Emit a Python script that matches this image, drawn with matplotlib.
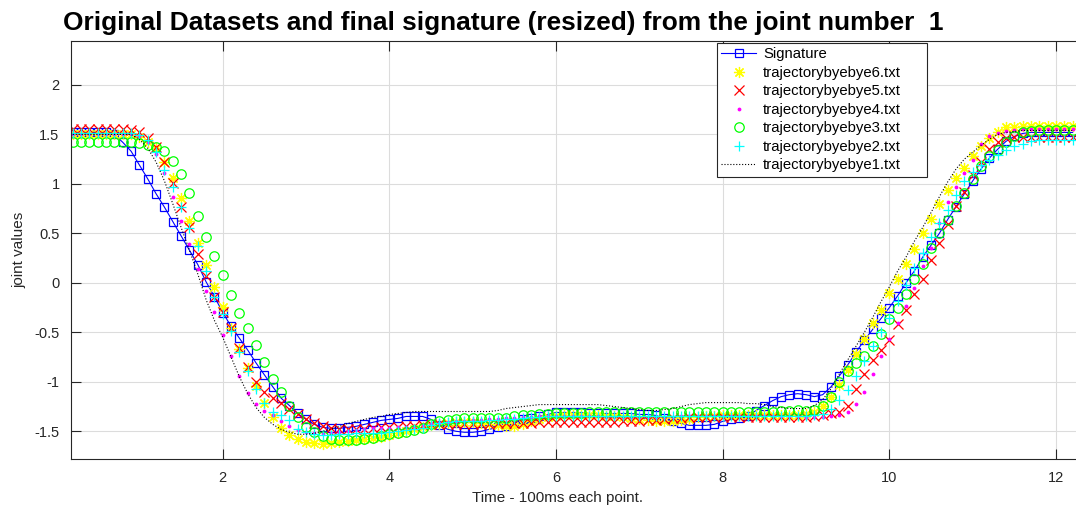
import numpy as np
import matplotlib
matplotlib.use("Agg")
import matplotlib.pyplot as plt
from matplotlib.ticker import FuncFormatter

plt.rcParams['font.family'] = ['Liberation Sans', 'DejaVu Sans']
plt.rcParams['axes.unicode_minus'] = False

# time axis: one sample every 100 ms
time = np.arange(121) / 10 + 0.2

signature = [
    1.52, 1.52, 1.52, 1.52, 1.52, 1.50, 1.42, 1.33, 1.19, 1.05,
    0.90, 0.765, 0.62, 0.475, 0.33, 0.185, 0.01, -0.14, -0.30, -0.44,
    -0.56, -0.68, -0.81, -0.93, -1.05, -1.165, -1.24, -1.32, -1.38, -1.43,
    -1.46, -1.47, -1.47, -1.46, -1.45, -1.43, -1.41, -1.39, -1.38, -1.37,
    -1.35, -1.35, -1.35, -1.38, -1.44, -1.48, -1.50, -1.51, -1.51, -1.50,
    -1.48, -1.46, -1.45, -1.42, -1.38, -1.37, -1.35, -1.33, -1.31, -1.31,
    -1.31, -1.31, -1.32, -1.32, -1.32, -1.32, -1.32, -1.32, -1.33, -1.33,
    -1.34, -1.37, -1.40, -1.42, -1.44, -1.44, -1.44, -1.43, -1.40, -1.38,
    -1.37, -1.35, -1.29, -1.24, -1.19, -1.15, -1.13, -1.12, -1.13, -1.15,
    -1.13, -1.05, -0.94, -0.83, -0.70, -0.58, -0.47, -0.36, -0.25, -0.13,
    0.00, 0.12, 0.26, 0.38, 0.50, 0.64, 0.77, 0.90, 1.03, 1.15,
    1.26, 1.35, 1.43, 1.48, 1.51, 1.52, 1.52, 1.52, 1.52, 1.52,
    1.52,
]

traj6 = [
    1.50, 1.50, 1.50, 1.50, 1.50, 1.50, 1.50, 1.50, 1.47, 1.42,
    1.36, 1.22, 1.06, 0.86, 0.63, 0.40, 0.18, -0.04, -0.24, -0.46,
    -0.67, -0.86, -1.04, -1.21, -1.36, -1.47, -1.535, -1.58, -1.61, -1.62,
    -1.625, -1.62, -1.61, -1.60, -1.59, -1.58, -1.57, -1.56, -1.54, -1.52,
    -1.50, -1.48, -1.46, -1.44, -1.43, -1.42, -1.41, -1.41, -1.41, -1.42,
    -1.43, -1.44, -1.45, -1.45, -1.43, -1.40, -1.38, -1.36, -1.35, -1.34,
    -1.34, -1.34, -1.34, -1.34, -1.35, -1.35, -1.36, -1.37, -1.38, -1.39,
    -1.40, -1.40, -1.40, -1.39, -1.38, -1.36, -1.35, -1.35, -1.34, -1.34,
    -1.34, -1.34, -1.34, -1.34, -1.34, -1.34, -1.34, -1.34, -1.33, -1.30,
    -1.24, -1.15, -1.03, -0.88, -0.72, -0.57, -0.41, -0.27, -0.10, 0.04,
    0.19, 0.34, 0.50, 0.65, 0.80, 0.94, 1.06, 1.16, 1.28, 1.38,
    1.46, 1.52, 1.57, 1.58, 1.59, 1.59, 1.59, 1.59, 1.59, 1.59,
    1.59,
]

traj5 = [
    1.55, 1.55, 1.55, 1.55, 1.55, 1.55, 1.55, 1.54, 1.52, 1.46,
    1.37, 1.22, 1.01, 0.77, 0.56, 0.29, 0.07, -0.14, -0.29, -0.46,
    -0.66, -0.85, -1.00, -1.10, -1.16, -1.21, -1.27, -1.33, -1.38, -1.42,
    -1.45, -1.47, -1.48, -1.48, -1.48, -1.48, -1.47, -1.46, -1.46, -1.46,
    -1.45, -1.45, -1.44, -1.43, -1.43, -1.43, -1.43, -1.43, -1.43, -1.43,
    -1.43, -1.42, -1.42, -1.42, -1.42, -1.42, -1.41, -1.41, -1.41, -1.41,
    -1.41, -1.41, -1.41, -1.41, -1.41, -1.41, -1.40, -1.40, -1.40, -1.39,
    -1.39, -1.38, -1.37, -1.37, -1.36, -1.36, -1.36, -1.36, -1.36, -1.36,
    -1.36, -1.36, -1.36, -1.36, -1.36, -1.36, -1.36, -1.36, -1.36, -1.35,
    -1.34, -1.32, -1.30, -1.24, -1.07, -0.92, -0.78, -0.68, -0.58, -0.42,
    -0.27, -0.11, 0.04, 0.23, 0.40, 0.59, 0.78, 0.92, 1.09, 1.22,
    1.35, 1.42, 1.46, 1.47, 1.47, 1.47, 1.47, 1.47, 1.47, 1.47,
    1.47,
]

traj4 = [
    1.50, 1.50, 1.50, 1.50, 1.50, 1.50, 1.50, 1.50, 1.48, 1.42,
    1.30, 1.11, 0.87, 0.63, 0.39, 0.14, -0.08, -0.29, -0.53, -0.74,
    -0.94, -1.11, -1.22, -1.29, -1.34, -1.40, -1.45, -1.49, -1.51, -1.52,
    -1.52, -1.52, -1.51, -1.50, -1.49, -1.48, -1.47, -1.47, -1.47, -1.46,
    -1.46, -1.45, -1.44, -1.43, -1.42, -1.41, -1.40, -1.40, -1.39, -1.39,
    -1.38, -1.38, -1.37, -1.37, -1.36, -1.36, -1.35, -1.35, -1.35, -1.35,
    -1.35, -1.35, -1.35, -1.35, -1.36, -1.36, -1.36, -1.36, -1.36, -1.36,
    -1.36, -1.36, -1.36, -1.35, -1.35, -1.35, -1.35, -1.35, -1.35, -1.35,
    -1.35, -1.35, -1.35, -1.35, -1.35, -1.35, -1.35, -1.35, -1.36, -1.36,
    -1.36, -1.35, -1.34, -1.31, -1.22, -1.10, -0.92, -0.74, -0.57, -0.41,
    -0.23, -0.05, 0.17, 0.35, 0.60, 0.82, 0.97, 1.11, 1.24, 1.40,
    1.48, 1.51, 1.53, 1.54, 1.55, 1.55, 1.55, 1.55, 1.55, 1.55,
    1.55,
]

traj3 = [
    1.42, 1.42, 1.42, 1.42, 1.42, 1.42, 1.42, 1.42, 1.41, 1.39,
    1.37, 1.33, 1.235, 1.10, 0.91, 0.68, 0.46, 0.27, 0.08, -0.12,
    -0.30, -0.46, -0.63, -0.80, -0.97, -1.10, -1.24, -1.36, -1.46, -1.51,
    -1.55, -1.58, -1.59, -1.59, -1.585, -1.58, -1.57, -1.55, -1.53, -1.52,
    -1.51, -1.49, -1.47, -1.43, -1.40, -1.39, -1.38, -1.37, -1.37, -1.37,
    -1.37, -1.37, -1.37, -1.35, -1.34, -1.34, -1.33, -1.33, -1.32, -1.32,
    -1.32, -1.32, -1.31, -1.31, -1.31, -1.31, -1.30, -1.30, -1.30, -1.30,
    -1.30, -1.30, -1.30, -1.30, -1.30, -1.30, -1.30, -1.30, -1.30, -1.30,
    -1.30, -1.30, -1.30, -1.30, -1.30, -1.29, -1.29, -1.28, -1.29, -1.28,
    -1.24, -1.15, -1.00, -0.89, -0.81, -0.74, -0.64, -0.52, -0.37, -0.25,
    -0.11, 0.04, 0.19, 0.35, 0.50, 0.64, 0.78, 0.91, 1.05, 1.18,
    1.28, 1.34, 1.42, 1.48, 1.52, 1.53, 1.54, 1.54, 1.54, 1.54,
    1.54,
]

traj2 = [
    1.51, 1.51, 1.51, 1.51, 1.51, 1.51, 1.51, 1.51, 1.49, 1.44,
    1.32, 1.14, 0.97, 0.77, 0.55, 0.37, 0.12, -0.14, -0.31, -0.49,
    -0.70, -0.89, -1.07, -1.21, -1.30, -1.34, -1.39, -1.48, -1.51, -1.53,
    -1.54, -1.54, -1.53, -1.53, -1.52, -1.52, -1.52, -1.52, -1.51, -1.50,
    -1.49, -1.48, -1.47, -1.44, -1.42, -1.41, -1.40, -1.40, -1.40, -1.40,
    -1.39, -1.39, -1.38, -1.38, -1.37, -1.36, -1.36, -1.35, -1.35, -1.35,
    -1.35, -1.35, -1.35, -1.35, -1.35, -1.35, -1.35, -1.35, -1.35, -1.35,
    -1.35, -1.35, -1.35, -1.35, -1.35, -1.35, -1.35, -1.35, -1.35, -1.35,
    -1.35, -1.35, -1.35, -1.35, -1.35, -1.35, -1.35, -1.35, -1.35, -1.34,
    -1.33, -1.27, -1.18, -1.08, -0.94, -0.79, -0.64, -0.50, -0.36, -0.18,
    -0.02, 0.15, 0.30, 0.46, 0.60, 0.74, 0.89, 1.03, 1.12, 1.19,
    1.24, 1.29, 1.34, 1.38, 1.40, 1.43, 1.44, 1.44, 1.44, 1.44,
    1.44,
]

traj1 = [
    1.50, 1.50, 1.50, 1.50, 1.50, 1.50, 1.50, 1.50, 1.45, 1.36,
    1.22, 1.03, 0.80, 0.56, 0.33, 0.09, -0.17, -0.38, -0.55, -0.75,
    -0.95, -1.12, -1.26, -1.36, -1.43, -1.48, -1.51, -1.53, -1.53, -1.52,
    -1.50, -1.48, -1.45, -1.42, -1.40, -1.38, -1.36, -1.35, -1.33, -1.32,
    -1.31, -1.30, -1.30, -1.30, -1.30, -1.30, -1.30, -1.30, -1.30, -1.30,
    -1.30, -1.29, -1.27, -1.26, -1.25, -1.24, -1.23, -1.23, -1.23, -1.23,
    -1.23, -1.23, -1.23, -1.23, -1.24, -1.25, -1.26, -1.27, -1.28, -1.29,
    -1.29, -1.28, -1.27, -1.25, -1.23, -1.22, -1.21, -1.21, -1.21, -1.21,
    -1.21, -1.22, -1.22, -1.23, -1.25, -1.26, -1.27, -1.27, -1.27, -1.24,
    -1.18, -1.07, -0.92, -0.78, -0.64, -0.50, -0.35, -0.19, -0.04, 0.12,
    0.26, 0.42, 0.56, 0.71, 0.87, 1.02, 1.15, 1.25, 1.32, 1.39,
    1.45, 1.50, 1.52, 1.53, 1.54, 1.54, 1.54, 1.54, 1.54, 1.54,
    1.54,
]

x_ticks = [2, 4, 6, 8, 10, 12]
y_ticks = [-1.5, -1, -0.5, 0, 0.5, 1, 1.5, 2]

fig = plt.figure(figsize=(10.76, 5.13), dpi=100)
W, H = 1076, 513
ax = fig.add_axes([70.7 / W, 1 - 459 / H, (W - 70.7) / W, (459 - 41) / H])

# asterisk marker like matlab's '*'
star = (8, 2, 0)

ax.plot(time, signature, '-s', color='#0000ff', lw=0.8, ms=5.8,
        mfc='none', mec='#0000ff', mew=0.9, label='Signature')
ax.plot(time, traj6, ls='none', marker=star, color='#ffff00', ms=8, mew=0.9,
        label='trajectorybyebye6.txt')
ax.plot(time, traj5, 'x', color='#ff0000', ms=6.5, mew=0.9, ls='none',
        label='trajectorybyebye5.txt')
ax.plot(time, traj4, '.', color='#ff00ff', ms=3.5, ls='none',
        label='trajectorybyebye4.txt')
ax.plot(time, traj3, 'o', color='#00ff00', ms=6.8, mfc='none', mew=0.9,
        ls='none', label='trajectorybyebye3.txt')
ax.plot(time, traj2, '+', color='#00ffff', ms=7.5, mew=0.9, ls='none',
        label='trajectorybyebye2.txt')
ax.plot(time, traj1, ':', color='black', lw=0.8,
        label='trajectorybyebye1.txt')

ax.set_xlim(0.175, 12.24)
ax.set_ylim(-1.78, 2.444)
ax.set_xticks(x_ticks)
ax.set_yticks(y_ticks)
ax.yaxis.set_major_formatter(FuncFormatter(lambda v, p: '%g' % v))

ax.grid(True, color='#dcdcdc', lw=0.8)
ax.set_axisbelow(True)
for side in ('left', 'bottom', 'top'):
    ax.spines[side].set_color('#262626')
    ax.spines[side].set_linewidth(0.8)
ax.spines['right'].set_visible(False)
ax.tick_params(direction='in', length=7.5, width=0.8, color='#262626',
               labelsize=10.5, labelcolor='#262626', top=True)
ax.tick_params(axis='x', pad=9)
ax.tick_params(axis='y', pad=8)

ax.set_xlabel('Time - 100ms each point.', fontsize=11, color='#262626')
ax.xaxis.set_label_coords((558 - 70.7) / (W - 70.7), -(497.7 - 459) / (459 - 41))
ax.set_ylabel('joint values', fontsize=11, color='#262626')
ax.yaxis.set_label_coords(-(70.7 - 19) / (W - 70.7), (459 - 250) / (459 - 41))
ax.xaxis.label.set_va('center')
ax.yaxis.label.set_va('center')

fig.text(63 / W, 1 - 23 / H,
         'Original Datasets and final signature (resized) from the joint number  1',
         fontsize=18.9, fontweight='bold', ha='left', va='center')

# legend box stretched to the reference width
leg_h = 132 / H
leg = ax.legend(loc='upper left',
                bbox_to_anchor=(717 / W, 1 - 43 / H - leg_h, 210 / W, leg_h),
                bbox_transform=fig.transFigure, mode='expand',
                fancybox=False, edgecolor='#262626', framealpha=1,
                fontsize=10.7, borderaxespad=0, handlelength=2.3,
                handletextpad=0.5, labelspacing=0.3, borderpad=0.3)
leg.get_frame().set_linewidth(0.8)

fig.savefig('out.png', dpi=100)
